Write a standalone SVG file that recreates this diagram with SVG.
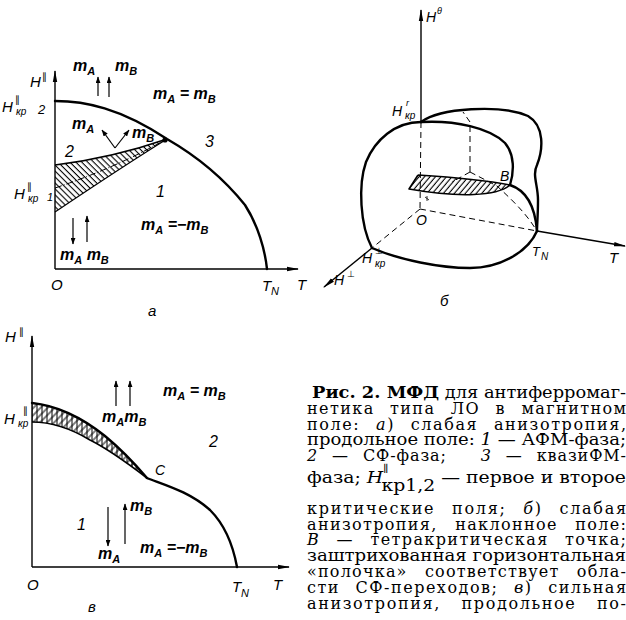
<svg xmlns="http://www.w3.org/2000/svg" width="626" height="620" viewBox="0 0 626 620">
<defs>
<style>
.ax{stroke:#000;stroke-width:1.4;fill:none}
.bd{stroke:#000;stroke-width:2.4;fill:none;stroke-linejoin:round;stroke-linecap:round}
.md{stroke:#000;stroke-width:1.6;fill:none;stroke-linejoin:round}
.dash{stroke:#000;stroke-width:1;fill:none;stroke-dasharray:6 4}
.th{stroke:#000;stroke-width:1.2;fill:none}
.it{font-family:"Liberation Sans","DejaVu Sans",Arial,sans-serif;font-style:italic;fill:#000}
.m{font-family:"Liberation Sans",Arial,sans-serif;font-style:italic;font-weight:bold;font-size:16px;fill:#000}
.s{font-size:11px}
.cap{font-family:"DejaVu Serif","Liberation Serif",serif;font-size:16px;fill:#000}
.ci{font-style:italic}
.cb{font-weight:bold}
</style>
<marker id="axa" viewBox="0 0 12 6" refX="11" refY="3" markerWidth="12" markerHeight="6" markerUnits="userSpaceOnUse" orient="auto"><path d="M0,0.8 L12,3 L0,5.2 Z" fill="#000"/></marker>
<marker id="sa" viewBox="0 0 8 6" refX="7.5" refY="3" markerWidth="7" markerHeight="5" markerUnits="userSpaceOnUse" orient="auto"><path d="M0,0 L8,3 L0,6 Z" fill="#000"/></marker>
<pattern id="hA" width="4.2" height="4.2" patternUnits="userSpaceOnUse" patternTransform="rotate(-45)"><line x1="2" y1="0" x2="2" y2="4.2" stroke="#000" stroke-width="1.1"/></pattern>
<pattern id="hB" width="4.2" height="4.2" patternUnits="userSpaceOnUse" patternTransform="rotate(40)"><line x1="2" y1="0" x2="2" y2="4.2" stroke="#000" stroke-width="1.1"/></pattern>
<pattern id="hC1" width="5" height="5" patternUnits="userSpaceOnUse" patternTransform="rotate(45)"><line x1="2" y1="0" x2="2" y2="5" stroke="#000" stroke-width="1"/></pattern>
<pattern id="hC2" width="5" height="5" patternUnits="userSpaceOnUse"><line x1="2" y1="0" x2="2" y2="5" stroke="#000" stroke-width="1"/></pattern>
</defs>

<!-- Panel a -->
<g id="panel-a">
  <g id="a-axes">
    <line class="ax" x1="55" y1="269" x2="55" y2="71" marker-end="url(#axa)"/>
    <line class="ax" x1="55" y1="269" x2="298" y2="269" marker-end="url(#axa)"/>
  </g>
  <g id="a-hatch">
    <path d="M55,165 Q112,158 167,139 Q125,165 55,212 Z" fill="url(#hA)" stroke="none"/>
    <path class="md" d="M55,165 Q112,158 167,139"/>
    <path class="th" d="M55,212 Q125,165 167,139"/>
    <path d="M55,188 Q115,168 165,140" stroke="#000" stroke-width="1" fill="none" stroke-dasharray="7 2 1 2"/>
  </g>
  <path id="a-boundary" class="bd" d="M55,101 C85,101 120,108 167,139 C200,158 225,180 245,205 C258,225 265,250 267,269"/>
  <circle cx="165" cy="140" r="2.6" fill="#000"/>
  <g id="a-arrows">
    <line class="th" x1="98" y1="96" x2="98" y2="77" marker-end="url(#sa)"/>
    <line class="th" x1="109" y1="97" x2="109" y2="77" marker-end="url(#sa)"/>
    <line class="th" x1="115" y1="148" x2="102" y2="130" marker-end="url(#sa)"/>
    <line class="th" x1="115" y1="148" x2="129" y2="130" marker-end="url(#sa)"/>
    <line class="th" x1="73" y1="218" x2="73" y2="244" marker-end="url(#sa)"/>
    <line class="th" x1="87" y1="242" x2="87" y2="216" marker-end="url(#sa)"/>
  </g>
  <g id="a-labels">
    <text class="it" x="30" y="87" font-size="15">H</text><text class="it" x="42" y="80" font-size="10">∥</text>
    <text class="it" x="2" y="112" font-size="15">H</text><text class="it" x="15" y="103" font-size="10">∥</text><text class="it" x="16" y="115" font-size="10">кр</text><text class="it" x="38" y="114" font-size="13">2</text>
    <text class="it" x="14" y="199" font-size="15">H</text><text class="it" x="27" y="190" font-size="10">∥</text><text class="it" x="28" y="202" font-size="10">кр</text><text class="it" x="47" y="201" font-size="11">1</text>
    <text class="m" x="73" y="71">m<tspan class="s" dy="4">A</tspan></text>
    <text class="m" x="115" y="71">m<tspan class="s" dy="4">B</tspan></text>
    <text class="m" x="153" y="99">m<tspan class="s" dy="4">A</tspan><tspan dy="-4"> = m</tspan><tspan class="s" dy="4">B</tspan></text>
    <text class="m" x="72" y="129">m<tspan class="s" dy="4">A</tspan></text>
    <text class="m" x="132" y="138">m<tspan class="s" dy="4">B</tspan></text>
    <text class="it" x="65" y="157" font-size="16">2</text>
    <text class="it" x="205" y="147" font-size="16">3</text>
    <text class="it" x="156" y="197" font-size="16">1</text>
    <text class="m" x="141" y="230">m<tspan class="s" dy="4">A</tspan><tspan dy="-4"> =−m</tspan><tspan class="s" dy="4">B</tspan></text>
    <text class="m" x="60" y="260">m<tspan class="s" dy="4">A</tspan><tspan dy="-4"> m</tspan><tspan class="s" dy="4">B</tspan></text>
    <text class="it" x="51" y="290" font-size="15">O</text>
    <text class="it" x="262" y="291" font-size="15">T</text><text class="it" x="271" y="295" font-size="11">N</text>
    <text class="it" x="297" y="290" font-size="15">T</text>
    <text class="it" x="148" y="316" font-size="15">а</text>
  </g>
</g>

<!-- Panel b -->
<g id="panel-b">
  <g id="b-axes">
    <line class="ax" x1="421" y1="122" x2="421" y2="10" marker-end="url(#axa)"/>
    <line class="dash" x1="421" y1="122" x2="420" y2="209"/>
    <line class="dash" x1="420" y1="209" x2="537" y2="231"/>
    <line class="ax" x1="537" y1="231" x2="625" y2="246" marker-end="url(#axa)"/>
    <line class="dash" x1="420" y1="209" x2="372" y2="248"/>
    <line class="ax" x1="372" y1="248" x2="324" y2="287" marker-end="url(#axa)"/>
  </g>
  <g id="b-inner">
    <path class="dash" d="M470,172 L470,122 L463,112"/>
    <path class="dash" d="M470,172 L452,182"/>
    <path class="dash" d="M470,172 L497,186 C510,198 525,212 535,228"/>
    <path d="M425,197 l4,3 M427,196 l0,5" stroke="#000" stroke-width="0.8"/>
  </g>
  <g id="b-shelf">
    <path d="M418,175 C450,177 485,180 510,185 C497,196 460,198 409,189 Z" fill="url(#hB)" stroke="none"/>
    <path class="md" d="M418,175 C450,177 485,180 510,185 C497,196 460,198 409,189 L418,175"/>
  </g>
  <g id="b-surface">
    <path class="bd" d="M421,122 C395,122 375,140 366,162 C358,185 360,225 372,248"/>
    <path class="bd" d="M372,248 C400,260 440,268 470,268 C500,268 528,252 537,231"/>
    <path class="bd" d="M421,122 C455,120 490,128 505,143 C515,155 514,172 510,185"/>
    <path class="bd" d="M421,122 C440,108 500,104 528,116 C545,126 543,150 537,165 C532,175 538,185 538,200 C538,215 537,225 537,231"/>
    <path class="bd" d="M510,185 C525,190 535,205 537,231"/>
  </g>
  <g id="b-labels">
    <text class="it" x="426" y="22" font-size="14">H</text><text class="it" x="437" y="14" font-size="9">θ</text>
    <text class="it" x="392" y="116" font-size="14">H</text><text class="it" x="406" y="106" font-size="9">r</text><text class="it" x="405" y="119" font-size="10">кр</text>
    <text class="it" x="500" y="181" font-size="14">B</text>
    <text class="it" x="416" y="225" font-size="14">O</text>
    <text class="it" x="532" y="256" font-size="13">T</text><text class="it" x="541" y="260" font-size="10">N</text>
    <text class="it" x="609" y="263" font-size="15">T</text>
    <text class="it" x="362" y="263" font-size="14">H</text><text class="it" x="375" y="254" font-size="9">⊥</text><text class="it" x="375" y="267" font-size="10">кр</text>
    <text class="it" x="334" y="285" font-size="14">H</text><text class="it" x="347" y="277" font-size="9">⊥</text>
    <text class="it" x="440" y="306" font-size="15">б</text>
  </g>
</g>

<!-- Panel c -->
<g id="panel-c">
  <g id="c-axes">
    <line class="ax" x1="32" y1="567" x2="32" y2="336" marker-end="url(#axa)"/>
    <line class="ax" x1="32" y1="567" x2="289" y2="567" marker-end="url(#axa)"/>
  </g>
  <g id="c-hatch">
    <path d="M32,403 C60,406 85,420 105,436 C122,450 135,464 147,478 C130,465 110,450 90,440 C70,428 50,422 32,422 Z" fill="url(#hC1)"/>
    <path d="M32,403 C60,406 85,420 105,436 C122,450 135,464 147,478 C130,465 110,450 90,440 C70,428 50,422 32,422 Z" fill="url(#hC2)"/>
    <path class="bd" d="M32,403 C60,406 85,420 105,436 C122,450 135,464 147,478"/>
    <path class="md" d="M32,422 C50,422 70,428 90,440 C110,450 130,465 147,478"/>
  </g>
  <path id="c-boundary" class="bd" d="M147,478 C165,485 190,492 210,510 C225,525 233,545 237,567"/>
  <g id="c-arrows">
    <line class="th" x1="116" y1="406" x2="116" y2="381" marker-end="url(#sa)"/>
    <line class="th" x1="130" y1="406" x2="130" y2="381" marker-end="url(#sa)"/>
    <line class="th" x1="108" y1="507" x2="108" y2="546" marker-end="url(#sa)"/>
    <line class="th" x1="125" y1="544" x2="125" y2="504" marker-end="url(#sa)"/>
  </g>
  <g id="c-labels">
    <text class="it" x="5" y="342" font-size="15">H</text><text class="it" x="19" y="335" font-size="10">∥</text>
    <text class="it" x="4" y="424" font-size="15">H</text><text class="it" x="23" y="414" font-size="10">∥</text><text class="it" x="18" y="427" font-size="10">кр</text>
    <text class="m" x="163" y="396">m<tspan class="s" dy="4">A</tspan><tspan dy="-4"> = m</tspan><tspan class="s" dy="4">B</tspan></text>
    <text class="m" x="102" y="422">m<tspan class="s" dy="4">A</tspan><tspan dy="-4">m</tspan><tspan class="s" dy="4">B</tspan></text>
    <text class="it" x="209" y="447" font-size="16">2</text>
    <text class="it" x="155" y="475" font-size="14">C</text>
    <text class="it" x="77" y="530" font-size="16">1</text>
    <text class="m" x="130" y="511">m<tspan class="s" dy="4">B</tspan></text>
    <text class="m" x="98" y="559">m<tspan class="s" dy="4">A</tspan></text>
    <text class="m" x="140" y="553">m<tspan class="s" dy="4">A</tspan><tspan dy="-4"> =−m</tspan><tspan class="s" dy="4">B</tspan></text>
    <text class="it" x="27" y="590" font-size="15">O</text>
    <text class="it" x="232" y="592" font-size="15">T</text><text class="it" x="241" y="597" font-size="11">N</text>
    <text class="it" x="273" y="590" font-size="15">T</text>
    <text class="it" x="88" y="612" font-size="15">в</text>
  </g>
</g>

<!-- Caption -->
<g id="caption" class="cap">
  <text x="312" y="398" textLength="314" lengthAdjust="spacingAndGlyphs"><tspan class="cb">Рис. 2. МФД</tspan> для антиферромаг-</text>
  <text x="307" y="414" textLength="319" lengthAdjust="spacing" word-spacing="9">нетика типа ЛО в магнитном</text>
  <text x="307" y="430" textLength="319" lengthAdjust="spacing" word-spacing="9">поле: <tspan class="ci">а</tspan>) слабая анизотропия,</text>
  <text x="307" y="445" textLength="319" lengthAdjust="spacingAndGlyphs">продольное поле: <tspan class="ci">1</tspan> — АФМ-фаза;</text>
  <text x="307" y="461" textLength="319" lengthAdjust="spacing" word-spacing="8"><tspan class="ci">2</tspan> — СФ-фаза;<tspan word-spacing="28"> </tspan><tspan class="ci">3</tspan> — квазиФМ-</text>
  <text x="307" y="483" textLength="319" lengthAdjust="spacingAndGlyphs">фаза; <tspan class="ci">H</tspan><tspan font-size="10" dy="-11">∥</tspan><tspan dx="-6" dy="19">кр1,2</tspan><tspan dy="-8"> — первое и второе</tspan></text>
  <text x="307" y="514" textLength="319" lengthAdjust="spacing" word-spacing="10">критические поля; <tspan class="ci">б</tspan>) слабая</text>
  <text x="307" y="530" textLength="319" lengthAdjust="spacing" word-spacing="11">анизотропия, наклонное поле:</text>
  <text x="307" y="545" textLength="319" lengthAdjust="spacing" word-spacing="10"><tspan class="ci">B</tspan> — тетракритическая точка;</text>
  <text x="307" y="561" textLength="319" lengthAdjust="spacingAndGlyphs">заштрихованная горизонтальная</text>
  <text x="307" y="577" textLength="319" lengthAdjust="spacing" word-spacing="11">«полочка» соответствует обла-</text>
  <text x="307" y="593" textLength="319" lengthAdjust="spacing" word-spacing="9">сти СФ-переходов; <tspan class="ci">в</tspan>) сильная</text>
  <text x="307" y="609" textLength="319" lengthAdjust="spacing" word-spacing="14">анизотропия, продольное по-</text>
</g>
</svg>
